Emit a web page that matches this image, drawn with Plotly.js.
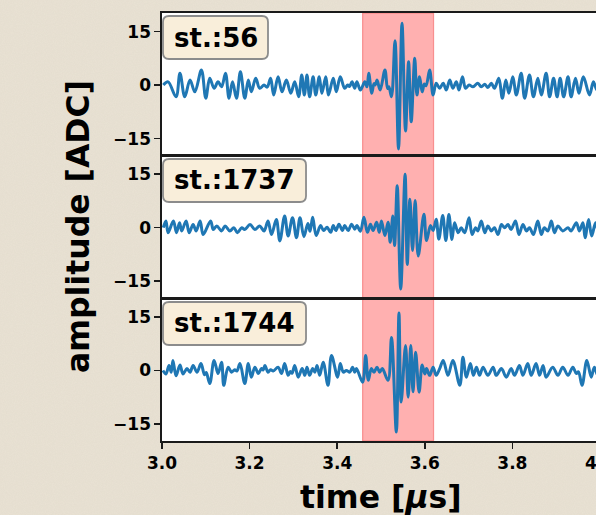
<!DOCTYPE html>
<html>
<head>
<meta charset="utf-8">
<script src="https://cdn.plot.ly/plotly-3.0.1.min.js"></script>
<style>
  html, body { margin: 0; padding: 0; width: 596px; height: 515px; overflow: hidden; }
  body {
    background-color: #e9e2d4;
    background-image: url("data:image/svg+xml;utf8,<svg xmlns='http://www.w3.org/2000/svg' width='300' height='300'><filter id='n'><feTurbulence type='fractalNoise' baseFrequency='0.9' numOctaves='2' stitchTiles='stitch'/><feColorMatrix values='0 0 0 0 0.45  0 0 0 0 0.4  0 0 0 0 0.3  0 0 0 0.09 0'/></filter><rect width='300' height='300' filter='url(%23n)'/></svg>");
  }
  #chart { width: 620px; height: 515px; }
</style>
</head>
<body>
<div id="chart"></div>
<script>
// ---- data (time in microseconds, amplitude in ADC) ----
const stations = ['st.:56', 'st.:1737', 'st.:1744'];

const t56 = [3.003,3.014,3.032,3.041,3.052,3.064,3.075,3.090,3.100,3.109,
3.119,3.128,3.136,3.145,3.153,3.161,3.170,3.179,3.189,3.197,
3.204,3.214,3.223,3.233,3.240,3.248,3.255,3.265,3.274,3.284,
3.294,3.303,3.312,3.319,3.325,3.331,3.337,3.345,3.351,3.359,
3.365,3.374,3.380,3.391,3.398,3.407,3.417,3.424,3.428,3.434,
3.440,3.445,3.453,3.463,3.468,3.472,3.479,3.484,3.487,3.491,
3.498,3.509,3.515,3.518,3.524,3.532,3.540,3.548,3.556,3.563,
3.569,3.577,3.582,3.588,3.594,3.599,3.603,3.611,3.619,3.626,
3.634,3.642,3.649,3.657,3.664,3.672,3.678,3.686,3.693,3.701,
3.710,3.721,3.729,3.737,3.744,3.752,3.759,3.769,3.777,3.785,
3.792,3.801,3.809,3.820,3.828,3.839,3.848,3.858,3.866,3.877,
3.885,3.894,3.902,3.909,3.917,3.927,3.934,3.944,3.952,3.962,
3.976,3.985,3.993,4.002,4.010];
const a56 = [0,0.9,-3.3,3.3,-3.3,1.4,-1.9,4.2,-3.7,1.9,
-0.9,0.9,-0.5,3.3,-3.7,0.9,-3.7,3.7,-3.7,1.4,
-1.9,1.9,-0.9,0.0,-0.6,1.9,-2.8,2.3,-1.9,1.4,
-2.3,0.9,-3.3,2.8,-2.8,2.8,-3.3,2.3,-2.8,2.3,
-2.3,2.3,-2.8,1.9,-1.9,2.3,-0.9,0.0,-0.4,0.9,
-0.9,0.9,-1.4,0.9,-0.5,3.3,-2.3,0.4,0.0,1.4,
-1.4,4.2,-1.0,-0.5,-3.3,12.4,-17.9,17.3,-12.9,6.5,
-10.3,7.5,-2.8,2.3,-1.9,0.3,-0.2,4.2,-2.8,0.5,
-0.9,0.5,-1.4,1.4,-0.9,0.9,-1.4,2.3,-0.9,0.0,
-0.5,0.5,-0.5,0.2,-0.7,0.5,-0.9,1.9,-3.7,1.4,
-2.3,2.3,-2.8,3.3,-3.7,2.8,-3.3,1.9,-2.8,3.3,
-3.3,1.9,-3.3,1.9,-3.3,2.3,-3.3,1.9,-2.3,2.3,
-2.8,0.9,-1.4,1.4,-0.9];

const t1737 = [3.003,3.009,3.014,3.026,3.033,3.040,3.045,3.055,3.062,3.071,
3.078,3.087,3.094,3.111,3.117,3.125,3.136,3.144,3.155,3.164,
3.172,3.182,3.189,3.201,3.212,3.223,3.233,3.242,3.250,3.261,
3.269,3.280,3.288,3.298,3.307,3.315,3.324,3.333,3.338,3.344,
3.352,3.362,3.369,3.377,3.385,3.391,3.397,3.404,3.412,3.417,
3.425,3.433,3.440,3.445,3.453,3.461,3.469,3.476,3.482,3.490,
3.496,3.501,3.509,3.516,3.521,3.527,3.531,3.537,3.545,3.555,
3.560,3.566,3.572,3.578,3.585,3.598,3.604,3.613,3.619,3.626,
3.632,3.641,3.648,3.655,3.662,3.668,3.676,3.683,3.691,3.701,
3.708,3.716,3.721,3.729,3.737,3.744,3.752,3.759,3.767,3.775,
3.782,3.790,3.797,3.807,3.815,3.824,3.832,3.839,3.848,3.858,
3.866,3.873,3.881,3.889,3.896,3.904,3.915,3.927,3.934,3.946,
3.953,3.961,3.966,3.974,3.981,3.990,3.998,4.007];
const a1737 = [0,1.9,-1.4,1.9,-1.4,1.4,-0.9,1.9,-1.4,0.9,
-0.9,1.9,-1.9,1.9,-0.5,0.5,-0.9,0.5,-0.9,0,
-1.4,0,-0.5,0.9,-0.5,0.5,-0.9,1.9,-1.9,2.3,
-3.7,3.3,-2.3,2.8,-2.8,2.8,-2.5,1.2,-1.0,2.9,
-2.2,0.6,-0.8,0.1,-1.3,0.6,-0.8,1.0,-0.8,0.6,
-0.8,1.0,-0.4,0.6,-1.0,2.9,-1.3,1.0,-0.8,1.5,
-1.3,1.9,-2.2,1.5,-4.1,3.3,-5.0,11.8,-17.2,15.0,
-10.3,8.0,-6.4,7.6,-7.9,3.8,-3.6,0.6,-0.8,2.4,
-3.2,3.4,-3.6,3.7,-3.3,1.4,-1.4,0,-1.4,2.8,
-1.9,0,-0.9,1.9,-1.4,0.5,-0.9,0,-1.9,0.9,
0,0.9,-0.5,1.9,-1.9,0.9,-0.9,0,-1.9,1.9,
-1.9,0,-0.9,1.9,-1.4,0.5,-0.9,0,-0.9,1.4,
-0.9,1.4,-2.8,2.3,-2.3,1.4,-1.9,1.4];

const t1744 = [3.002,3.009,3.016,3.021,3.025,3.032,3.041,3.048,3.057,3.064,
3.071,3.080,3.089,3.097,3.101,3.109,3.119,3.128,3.136,3.141,
3.151,3.159,3.166,3.171,3.178,3.189,3.197,3.204,3.212,3.220,
3.227,3.231,3.235,3.242,3.248,3.254,3.265,3.273,3.280,3.288,
3.293,3.297,3.303,3.311,3.320,3.326,3.331,3.337,3.344,3.349,
3.354,3.360,3.368,3.379,3.387,3.401,3.407,3.414,3.421,3.429,
3.435,3.440,3.444,3.458,3.465,3.471,3.478,3.484,3.491,3.497,
3.503,3.516,3.524,3.535,3.541,3.546,3.556,3.562,3.568,3.573,
3.579,3.587,3.594,3.600,3.604,3.611,3.619,3.626,3.634,3.642,
3.653,3.664,3.680,3.687,3.695,3.704,3.711,3.718,3.725,3.733,
3.744,3.756,3.763,3.775,3.786,3.797,3.805,3.816,3.824,3.835,
3.843,3.854,3.862,3.870,3.877,3.892,3.904,3.915,3.927,3.938,
3.946,3.951,3.959,3.970,3.980,3.987,3.995,4.004,4.012];
const a1744 = [0,-1.0,1.4,-0.5,2.8,-1.5,1.5,-1.0,0.5,-0.5,
1.4,-0.5,1.9,-1.2,-0.6,-3.7,2.8,-0.9,2.3,-4.2,
0.9,-0.5,0.2,-0.2,1.9,-3.7,1.9,-1.9,0.9,-0.9,
0.5,0.1,1.4,-0.5,0.2,-0.2,0.9,-0.9,1.9,-1.4,
-0.3,-0.8,1.4,-1.9,0.5,-1.4,0.9,-1.4,0.5,-0.5,
1.4,-1.4,2.3,-4.2,4.2,-1.9,1.9,-0.5,0,-0.5,
0.9,-0.5,0.5,-3.3,4.2,-2.8,0.5,-0.5,0.9,-0.5,
0.5,-2.8,9.2,-17.3,16.1,-8.9,7.0,-7.5,7.0,-6.0,
5.1,-6.1,1.5,-1.0,0.5,-1.4,0.9,-1.4,0.5,2.8,
-1.4,2.8,-4.2,3.7,-1.9,1.9,-1.4,0.9,-1.4,0.9,
-1.4,0.9,-1.4,0.5,-1.9,0.5,-1.4,1.4,-1.4,1.9,
-1.4,1.9,-1.4,1.4,-1.9,0.9,-1.4,0.9,-1.4,0.9,
-0.9,-0.4,-4.2,2.8,-1.9,0.9,-1.4,1.4,-0.9];

const pulseWindow = [3.458, 3.620];
const xTicks = [3.0, 3.2, 3.4, 3.6, 3.8, 4.0];
const yTicks = [-15, 0, 15];
const yTickText = ['\u221215', '0', '15'];

// ---- chart ----
const lineColor = '#1f77b4';
const FONT = 'DejaVu Sans, Liberation Sans, sans-serif';
const times = [t56, t1737, t1744];
const amps = [a56, a1737, a1744];

const traces = times.map((t, i) => ({
  x: t, y: amps[i], type: 'scatter', mode: 'lines',
  line: { color: lineColor, width: 3, shape: 'spline', smoothing: 1 },
  xaxis: i === 0 ? 'x' : 'x' + (i + 1),
  yaxis: i === 0 ? 'y' : 'y' + (i + 1),
  hoverinfo: 'skip', showlegend: false
}));

const domains = [[2/3, 1], [1/3, 2/3], [0, 1/3]];
const layout = {
  width: 620, height: 515,
  margin: { l: 162, r: 20, t: 13, b: 74 },
  paper_bgcolor: 'rgba(0,0,0,0)',
  plot_bgcolor: '#ffffff',
  showlegend: false,
  font: { family: FONT, color: '#000' },
  shapes: [],
  annotations: []
};

for (let i = 0; i < 3; i++) {
  const xs = i === 0 ? 'xaxis' : 'xaxis' + (i + 1);
  const ys = i === 0 ? 'yaxis' : 'yaxis' + (i + 1);
  const yId = i === 0 ? 'y' : 'y' + (i + 1);
  const bottom = i === 2;
  layout[xs] = {
    domain: [0, 1], anchor: yId, range: [3.0, 4.0],
    showgrid: false, zeroline: false,
    showline: true, mirror: true, linecolor: '#1a1a1a', linewidth: 1.6,
    ticks: bottom ? 'outside' : '', ticklen: 6, tickwidth: 1.5, tickcolor: '#1a1a1a',
    tickvals: xTicks, tickformat: '.1f',
    showticklabels: bottom,
    tickfont: { family: FONT, size: 17, weight: 'bold', color: '#000' },
    matches: i === 0 ? undefined : 'x'
  };
  layout[ys] = {
    domain: domains[i], anchor: i === 0 ? 'x' : 'x' + (i + 1),
    range: [-19.8, 20.2],
    showgrid: false, zeroline: false,
    showline: true, mirror: true, linecolor: '#1a1a1a', linewidth: 1.6,
    ticks: 'outside', ticklen: 6, tickwidth: 1.5, tickcolor: '#1a1a1a',
    tickvals: yTicks, ticktext: yTickText,
    tickfont: { family: FONT, size: 17, weight: 'bold', color: '#000' }
  };
}

// highlighted pulse window
layout.shapes.push({
  type: 'rect', xref: 'x', yref: 'paper',
  x0: pulseWindow[0], x1: pulseWindow[1], y0: 0, y1: 1,
  fillcolor: 'rgba(255,0,0,0.31)', line: { color: 'rgba(240,60,60,0.45)', width: 1.2 },
  layer: 'below'
});

// station label boxes (rounded)
function roundRect(x0, x1, y0, y1) {
  const rx = 6 / 438, ry = 6 / 428;
  return `M${x0 + rx},${y0} L${x1 - rx},${y0} Q${x1},${y0} ${x1},${y0 + ry} ` +
         `L${x1},${y1 - ry} Q${x1},${y1} ${x1 - rx},${y1} L${x0 + rx},${y1} ` +
         `Q${x0},${y1} ${x0},${y1 - ry} L${x0},${y0 + ry} Q${x0},${y0} ${x0 + rx},${y0} Z`;
}
const boxes = [
  { x0: 0.0023, x1: 0.242, y0: 0.8925, y1: 0.993 },
  { x0: 0.0023, x1: 0.3288, y0: 0.5584, y1: 0.6589 },
  { x0: 0.0023, x1: 0.3288, y0: 0.2243, y1: 0.3248 }
];
boxes.forEach((b, i) => {
  layout.shapes.push({
    type: 'path', xref: 'paper', yref: 'paper',
    path: roundRect(b.x0, b.x1, b.y0, b.y1),
    fillcolor: 'rgb(249,238,218)', line: { color: '#8c8c8c', width: 1.8 },
    layer: 'above'
  });
  layout.annotations.push({
    xref: 'paper', yref: 'paper', x: (b.x0 + b.x1) / 2, y: (b.y0 + b.y1) / 2,
    xanchor: 'center', yanchor: 'middle', showarrow: false,
    text: stations[i],
    font: { family: FONT, size: 26, weight: 'bold', color: '#000' }
  });
});

// axis titles
layout.annotations.push({
  xref: 'paper', yref: 'paper', x: -0.1916, y: 0.5,
  xanchor: 'center', yanchor: 'middle', showarrow: false, textangle: -90,
  text: 'amplitude [ADC]',
  font: { family: FONT, size: 31.5, weight: 'bold', color: '#000' }
});
layout.annotations.push({
  xref: 'paper', yref: 'paper', x: 0.5, y: -0.131,
  xanchor: 'center', yanchor: 'middle', showarrow: false,
  text: 'time [<i>\u03bc</i>s]',
  font: { family: FONT, size: 31.5, weight: 'bold', color: '#000' }
});

Plotly.newPlot('chart', traces, layout, { staticPlot: true, displayModeBar: false });
</script>
</body>
</html>
